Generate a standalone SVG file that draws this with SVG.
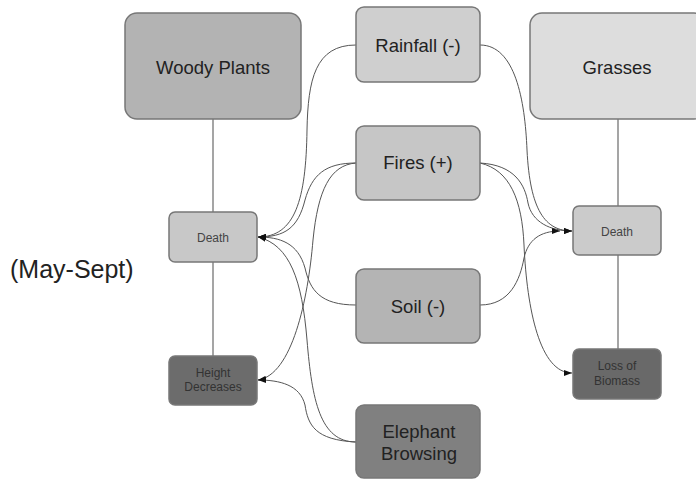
<svg xmlns="http://www.w3.org/2000/svg" width="696" height="481" viewBox="0 0 696 481">
<defs>
<marker id="arr" markerUnits="userSpaceOnUse" markerWidth="8" markerHeight="6" refX="8" refY="3" orient="auto">
<path d="M0,0 L8,3 L0,6 z" fill="#111"/>
</marker>
<style>
.box{stroke:#777;stroke-width:1.5}
.big{font-family:"Liberation Sans",Arial,sans-serif;font-size:18.5px;fill:#222;text-anchor:middle}
.small{font-family:"Liberation Sans",Arial,sans-serif;font-size:12px;fill:#444;text-anchor:middle}
.dk{fill:#333}
.tree{stroke:#888;stroke-width:1.5;fill:none}
.con{stroke:#555;stroke-width:1;fill:none;marker-end:url(#arr)}
</style>
</defs>
<rect width="696" height="481" fill="#fff"/>
<g id="links">
<path class="tree" d="M213,119 V212 M213,262 V356"/>
<path class="tree" d="M618,119 V206 M618,255 V349"/>
<path class="con" d="M356,45 C315,45 308,80 307,130 C306,200 295,237 258,237"/>
<path class="con" d="M356,163 C325,163 312,175 305,200 C298,228 285,237 258,237"/>
<path class="con" d="M356,163 C330,165 318,190 313,240 C308,300 292,375 258,380"/>
<path class="con" d="M356,305 C320,305 310,290 305,268 C298,243 280,237 258,237"/>
<path class="con" d="M356,442 C320,442 312,400 307,340 C302,280 290,245 258,237"/>
<path class="con" d="M356,442 C315,440 308,425 305,405 C300,385 280,380 258,380"/>
<path class="con" d="M480,45 C515,45 525,100 527,150 C530,210 545,231 572,231"/>
<path class="con" d="M480,163 C515,165 525,185 528,203 C532,222 550,231 572,231"/>
<path class="con" d="M480,163 C510,170 522,200 524,245 C527,310 540,373 572,373"/>
<path class="con" d="M480,305 C510,305 520,280 524,258 C528,240 540,231 560,231"/>
</g>
<g id="woody"><rect class="box" x="125" y="13" width="176" height="106" rx="12" fill="#b3b3b3"/><text class="big" x="213" y="74">Woody Plants</text></g>
<g id="rainfall"><rect class="box" x="356" y="7" width="124" height="75" rx="8" fill="#cfcfcf"/><text class="big" x="418" y="52">Rainfall (-)</text></g>
<g id="fires"><rect class="box" x="356" y="126" width="124" height="74" rx="8" fill="#c6c6c6"/><text class="big" x="418" y="169">Fires (+)</text></g>
<g id="soil"><rect class="box" x="356" y="269" width="124" height="74" rx="8" fill="#b4b4b4"/><text class="big" x="418" y="313">Soil (-)</text></g>
<g id="elephant"><rect class="box" x="356" y="405" width="124" height="73" rx="8" fill="#808080"/><text class="big" x="419" y="438">Elephant</text><text class="big" x="419" y="460">Browsing</text></g>
<g id="grasses"><rect class="box" x="530" y="13" width="176" height="106" rx="12" fill="#dddddd"/><text class="big" x="617" y="74">Grasses</text></g>
<g id="death-left"><rect class="box" x="169" y="212" width="88" height="50" rx="6" fill="#c8c8c8"/><text class="small" x="213" y="242">Death</text></g>
<g id="height"><rect class="box" x="169" y="356" width="88" height="49" rx="6" fill="#6c6c6c"/><text class="small dk" x="213" y="377">Height</text><text class="small dk" x="213" y="391">Decreases</text></g>
<g id="death-right"><rect class="box" x="573" y="206" width="88" height="49" rx="6" fill="#cbcbcb"/><text class="small" x="617" y="236">Death</text></g>
<g id="loss"><rect class="box" x="573" y="349" width="88" height="50" rx="6" fill="#696969"/><text class="small dk" x="617" y="370">Loss of</text><text class="small dk" x="617" y="385">Biomass</text></g>
<g id="season"><text x="10" y="278" font-family="Liberation Sans, Arial, sans-serif" font-size="25" fill="#222">(May-Sept)</text></g>
</svg>
